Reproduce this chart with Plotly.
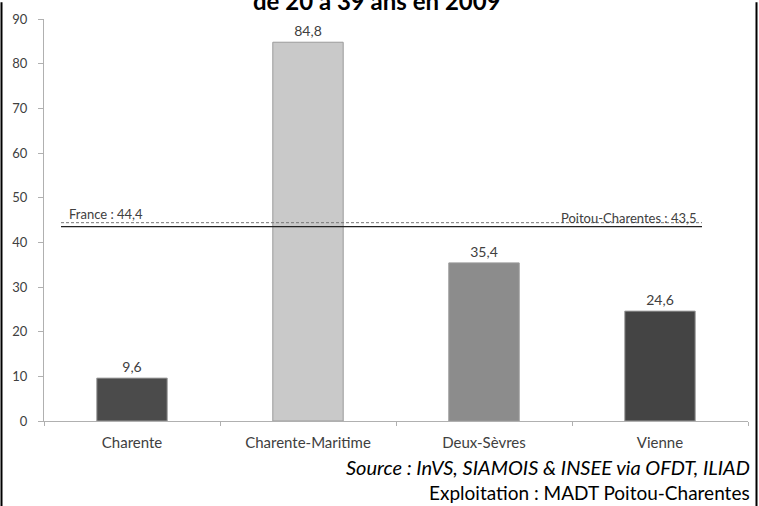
import plotly.graph_objects as go

categories = ["Charente", "Charente-Maritime", "Deux-Sèvres", "Vienne"]
values = [9.6, 84.8, 35.4, 24.6]
bar_colors = ["#4b4b4b", "#c9c9c9", "#8c8c8c", "#444444"]
ref_names = ["France", "Poitou-Charentes"]
ref_values = [44.4, 43.5]
y_ticks = [0, 10, 20, 30, 40, 50, 60, 70, 80, 90]
title_text = "de 20 à 39 ans en 2009"
source_text = "Source : InVS, SIAMOIS & INSEE via OFDT, ILIAD"
exploit_text = "Exploitation : MADT Poitou-Charentes"

W, H = 759, 506
L, R, T, B = 44, 11, 15, 85
pw, ph = W - L - R, H - T - B

def px_x(p):
    return (p - L) / pw

def px_y(p):
    return (H - B - p) / ph

FONT = "Lato"
TXT = "#404040"

fig = go.Figure()
fig.add_trace(go.Bar(
    x=categories, y=values, width=0.4,
    marker=dict(color=bar_colors, line=dict(color="#9a9a9a", width=1)),
    text=[f"{v:.1f}".replace(".", ",") for v in values],
    textposition="outside", cliponaxis=False,
    textfont=dict(family=FONT, size=14, color=TXT),
    showlegend=False,
))

# reference lines
fig.add_shape(type="line", xref="paper", yref="y", x0=px_x(61), x1=px_x(702),
              y0=ref_values[0], y1=ref_values[0],
              line=dict(color="#777777", width=1, dash="3px,2px"))
fig.add_shape(type="line", xref="paper", yref="y", x0=px_x(61), x1=px_x(702),
              y0=ref_values[1], y1=ref_values[1],
              line=dict(color="#222222", width=1.3))
fig.add_annotation(xref="paper", yref="y", x=px_x(67), y=ref_values[0], yshift=9,
                   xanchor="left", yanchor="middle", showarrow=False,
                   text=f"{ref_names[0]} : {ref_values[0]:.1f}".replace(".", ","),
                   font=dict(family=FONT, size=13, color=TXT))
fig.add_annotation(xref="paper", yref="y", x=px_x(699), y=ref_values[0], yshift=5,
                   xanchor="right", yanchor="middle", showarrow=False,
                   text=f"{ref_names[1]} : {ref_values[1]:.1f}".replace(".", ","),
                   font=dict(family=FONT, size=13, color=TXT))

# title (partially cut at top, as in the reference)
fig.add_annotation(xref="paper", yref="paper", x=px_x(377), y=px_y(-4),
                   xanchor="center", yanchor="middle", showarrow=False,
                   text=f"<b>{title_text}</b>",
                   font=dict(family=FONT, size=24, color="#000000"))

# source lines
fig.add_annotation(xref="paper", yref="paper", x=px_x(752), y=px_y(467),
                   xanchor="right", yanchor="middle", showarrow=False,
                   text=f"<i>{source_text}</i>",
                   font=dict(family=FONT, size=20, color="#000000"))
fig.add_annotation(xref="paper", yref="paper", x=px_x(752), y=px_y(493),
                   xanchor="right", yanchor="middle", showarrow=False,
                   text=exploit_text,
                   font=dict(family=FONT, size=19, color="#000000"))

# frame
for xp in (1.5, 756.5):
    fig.add_shape(type="line", xref="paper", yref="paper",
                  x0=px_x(xp), x1=px_x(xp), y0=px_y(-2), y1=px_y(H + 2),
                  line=dict(color="#000000", width=2))

fig.update_layout(
    width=W, height=H,
    margin=dict(l=L, r=R, t=T, b=B),
    paper_bgcolor="white", plot_bgcolor="white",
    bargap=0.6,
    xaxis=dict(
        showline=True, linecolor="#b0b0b0", linewidth=1,
        ticks="outside", tickson="boundaries", ticklen=4, tickcolor="#b0b0b0",
        tickfont=dict(family=FONT, size=15, color=TXT),
        ticklabelstandoff=8,
        showgrid=False, zeroline=False, range=[-0.5, 3.5],
    ),
    yaxis=dict(
        range=[0, 90], tickvals=y_ticks,
        showline=True, linecolor="#b0b0b0", linewidth=1,
        ticks="outside", ticklen=5, tickcolor="#b0b0b0",
        tickfont=dict(family=FONT, size=13, color=TXT),
        ticklabelstandoff=8,
        showgrid=False, zeroline=False,
    ),
)

fig.write_html("out.html", config={"displayModeBar": False},
               post_script="document.body.style.margin='0';document.body.style.overflow='hidden';")
